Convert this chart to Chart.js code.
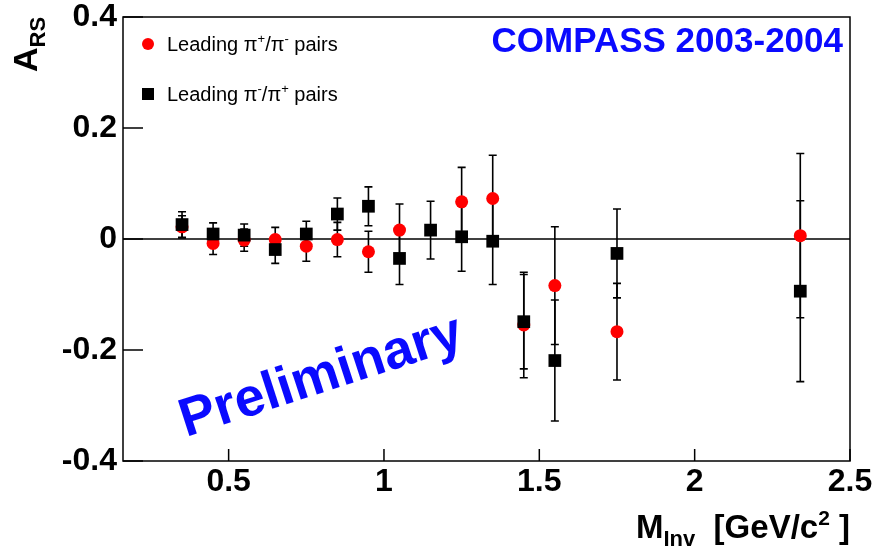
<!DOCTYPE html>
<html>
<head>
<meta charset="utf-8">
<script src="https://cdn.jsdelivr.net/npm/chart.js@4.4.1/dist/chart.umd.min.js"></script>
<style>
  html, body { margin: 0; padding: 0; background: #fff; }
  #wrap { width: 873px; height: 547px; }
</style>
</head>
<body>
<div id="wrap"><canvas id="myChart"></canvas></div>
<script>
// DATA ---------------------------------------------------------------
const massPlus = [0.35, 0.45, 0.55, 0.65, 0.75, 0.85, 0.95, 1.05, 1.25, 1.35, 1.45, 1.55, 1.75, 2.34];
const asymPlus = [0.022, -0.008, -0.002, -0.001, -0.013, -0.001, -0.023, 0.016, 0.067, 0.073, -0.155, -0.084, -0.167, 0.006];
const errPlus  = [0.020, 0.020, 0.020, 0.022, 0.027, 0.031, 0.037, 0.047, 0.062, 0.078, 0.095, 0.106, 0.087, 0.148];

const massMinus = [0.35, 0.45, 0.55, 0.65, 0.75, 0.85, 0.95, 1.05, 1.15, 1.25, 1.35, 1.45, 1.55, 1.75, 2.34];
const asymMinus = [0.026, 0.009, 0.007, -0.019, 0.009, 0.045, 0.059, -0.035, 0.016, 0.004, -0.004, -0.149, -0.219, -0.026, -0.094];
const errMinus  = [0.023, 0.020, 0.020, 0.025, 0.023, 0.029, 0.035, 0.047, 0.052, 0.062, 0.078, 0.085, 0.109, 0.080, 0.163];

const xTicks = [0.5, 1, 1.5, 2, 2.5];
const xTickLabels = ['0.5', '1', '1.5', '2', '2.5'];
const yTicks = [-0.4, -0.2, 0, 0.2, 0.4];
const yTickLabels = ['-0.4', '-0.2', '0', '0.2', '0.4'];

const FONT = "'Liberation Sans', Arial, sans-serif";
const BLUE = '#0a0aff';

// HELPERS ------------------------------------------------------------
// draws text made of pieces: [text, size, dy, bold]
function drawPieces(c, pieces, x, y) {
  let cx = x;
  for (const p of pieces) {
    c.font = (p[3] ? 'bold ' : '') + p[1] + 'px ' + FONT;
    c.fillText(p[0], cx, y + p[2]);
    cx += c.measureText(p[0]).width;
  }
  return cx;
}
function piecesWidth(c, pieces) {
  let w = 0;
  for (const p of pieces) {
    c.font = (p[3] ? 'bold ' : '') + p[1] + 'px ' + FONT;
    w += c.measureText(p[0]).width;
  }
  return w;
}

// error bars + zero line, under the markers
const errorBars = {
  id: 'errorBars',
  beforeDatasetsDraw(chart) {
    const c = chart.ctx, xs = chart.scales.x, ys = chart.scales.y, a = chart.chartArea;
    c.save();
    c.strokeStyle = '#000';
    c.lineWidth = 1.3;
    const y0 = ys.getPixelForValue(0);
    c.beginPath(); c.moveTo(a.left, y0); c.lineTo(a.right, y0); c.stroke();
    const sets = [[massPlus, asymPlus, errPlus], [massMinus, asymMinus, errMinus]];
    c.lineWidth = 1.6;
    for (const [mx, my, me] of sets) {
      for (let i = 0; i < mx.length; i++) {
        const px = xs.getPixelForValue(mx[i]);
        const top = ys.getPixelForValue(my[i] + me[i]);
        const bot = ys.getPixelForValue(my[i] - me[i]);
        c.beginPath();
        c.moveTo(px, top); c.lineTo(px, bot);
        c.moveTo(px - 4, top); c.lineTo(px + 4, top);
        c.moveTo(px - 4, bot); c.lineTo(px + 4, bot);
        c.stroke();
      }
    }
    c.restore();
  }
};

// frame, inner ticks, titles, legend, labels
const decor = {
  id: 'decor',
  afterDraw(chart) {
    const c = chart.ctx, xs = chart.scales.x, ys = chart.scales.y, a = chart.chartArea;
    c.save();
    c.strokeStyle = '#000';
    c.lineWidth = 1.5;
    c.strokeRect(a.left, a.top, a.right - a.left, a.bottom - a.top);
    c.beginPath();
    for (const v of yTicks) {
      const py = ys.getPixelForValue(v);
      c.moveTo(a.left, py); c.lineTo(a.left + 20, py);
    }
    for (const v of xTicks) {
      const px = xs.getPixelForValue(v);
      c.moveTo(px, a.bottom); c.lineTo(px, a.bottom - 12);
    }
    c.stroke();

    // legend
    c.fillStyle = 'rgb(255,0,0)';
    c.beginPath(); c.arc(148, 44, 6, 0, Math.PI * 2); c.fill();
    c.fillStyle = '#000';
    c.fillRect(142, 88, 12, 12);
    c.textBaseline = 'alphabetic';
    c.textAlign = 'left';
    drawPieces(c, [['Leading ', 20, 0], ['\u03c0', 20, 0], ['+', 13, -8], ['/\u03c0', 20, 0], ['-', 13, -8], [' pairs', 20, 0]], 167, 51);
    drawPieces(c, [['Leading ', 20, 0], ['\u03c0', 20, 0], ['-', 13, -8], ['/\u03c0', 20, 0], ['+', 13, -8], [' pairs', 20, 0]], 167, 101);

    // experiment label
    c.fillStyle = BLUE;
    c.font = 'bold 35px ' + FONT;
    c.textAlign = 'right';
    c.fillText('COMPASS 2003-2004', 843, 52);

    // Preliminary
    c.save();
    c.translate(186, 437);
    c.rotate(-18 * Math.PI / 180);
    c.textAlign = 'left';
    c.font = 'bold 54px ' + FONT;
    c.fillText('Preliminary', 0, 0);
    c.restore();

    // axis titles
    c.fillStyle = '#000';
    c.textAlign = 'left';
    const xt = [['M', 33, 0, true], ['Inv', 22, 8, true], ['  [GeV/c', 33, 0, true], ['2', 21, -13, true], [' ]', 33, 0, true]];
    drawPieces(c, xt, 850 - piecesWidth(c, xt), 538);

    c.save();
    c.translate(37, 72);
    c.rotate(-Math.PI / 2);
    drawPieces(c, [['A', 34, 0, true], ['RS', 22, 8, true]], 0, 0);
    c.restore();
    c.restore();
  }
};

// CHART --------------------------------------------------------------
new Chart(document.getElementById('myChart'), {
  type: 'scatter',
  data: {
    datasets: [
      {
        label: 'Leading \u03c0+/\u03c0- pairs',
        data: massPlus.map((m, i) => ({ x: m, y: asymPlus[i] })),
        pointStyle: 'circle',
        pointRadius: 6.5,
        backgroundColor: 'rgb(255,0,0)',
        borderColor: 'rgb(255,0,0)',
        borderWidth: 0,
        order: 2
      },
      {
        label: 'Leading \u03c0-/\u03c0+ pairs',
        data: massMinus.map((m, i) => ({ x: m, y: asymMinus[i] })),
        pointStyle: 'rect',
        pointRadius: 9,
        backgroundColor: '#000',
        borderColor: '#000',
        borderWidth: 0,
        order: 1
      }
    ]
  },
  options: {
    responsive: true,
    maintainAspectRatio: false,
    animation: false,
    devicePixelRatio: 1,
    layout: { padding: { top: 17, right: 23, left: 0, bottom: 0 } },
    scales: {
      x: {
        type: 'linear',
        min: 0.16,
        max: 2.5,
        grid: { display: false, drawTicks: false },
        border: { display: false },
        afterFit: s => { s.height = 86; s.paddingLeft = 0; s.paddingRight = 0; },
        afterBuildTicks: s => { s.ticks = xTicks.map(v => ({ value: v })); },
        ticks: {
          padding: 2,
          color: '#000',
          font: { family: FONT, size: 32, weight: 'bold' },
          callback: (v) => xTickLabels[xTicks.indexOf(v)]
        }
      },
      y: {
        min: -0.4,
        max: 0.4,
        grid: { display: false, drawTicks: false },
        border: { display: false },
        afterFit: s => { s.width = 123; s.paddingTop = 0; s.paddingBottom = 0; },
        afterBuildTicks: s => { s.ticks = yTicks.map(v => ({ value: v })); },
        ticks: {
          padding: 6,
          color: '#000',
          font: { family: FONT, size: 32, weight: 'bold' },
          callback: (v) => yTickLabels[yTicks.indexOf(v)]
        }
      }
    },
    plugins: {
      legend: { display: false },
      tooltip: { enabled: false }
    }
  },
  plugins: [errorBars, decor]
});
</script>
</body>
</html>
